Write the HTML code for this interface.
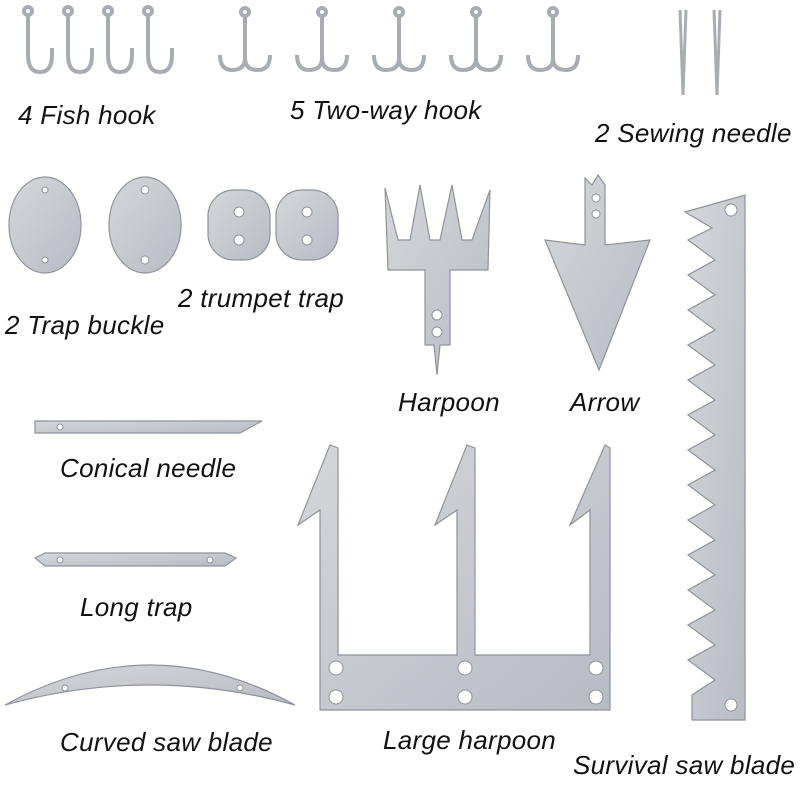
<!DOCTYPE html>
<html><head><style>
html,body{margin:0;padding:0;background:#fff;}
svg{display:block}
text{font-family:"Liberation Sans",sans-serif;font-style:italic;font-size:26px;letter-spacing:0.3px;fill:#111;}
</style></head><body>
<svg width="800" height="800" viewBox="0 0 800 800" xmlns="http://www.w3.org/2000/svg">
<defs>
<linearGradient id="m" x1="0" y1="0" x2="1" y2="1">
<stop offset="0" stop-color="#d4d6da"/><stop offset="1" stop-color="#b8bcc3"/>
</linearGradient>
</defs>
<g fill="url(#m)" stroke="#8e939b" stroke-width="1.2">
<g fill="none" stroke="#a8acb3" stroke-width="4">
<path d="M28 16 V55 Q28 72 40 72 Q52 72 52 55 V48"/>
<path d="M68 16 V55 Q68 72 80 72 Q92 72 92 55 V48"/>
<path d="M108 16 V55 Q108 72 120 72 Q132 72 132 55 V48"/>
<path d="M148 16 V55 Q148 72 160 72 Q172 72 172 55 V48"/>
<circle cx="28" cy="11" r="4"/><circle cx="68" cy="11" r="4"/><circle cx="108" cy="11" r="4"/><circle cx="148" cy="11" r="4"/>
<g id="tw"><circle cx="245" cy="12" r="4"/><path d="M245 16 V58 Q245 70 232 70 Q220 70 220 55 M245 58 Q245 70 258 70 Q270 70 270 55"/></g>
<use href="#tw" x="77"/><use href="#tw" x="154"/><use href="#tw" x="231"/><use href="#tw" x="308"/>
<path d="M680 10 L683 95 L686 10" stroke-width="3"/>
<path d="M720 10 L717 95 L714 10" stroke-width="3"/>
</g>
<ellipse cx="45" cy="225" rx="36" ry="48"/><ellipse cx="145" cy="225" rx="36" ry="48"/>
<rect x="208" y="190" width="62" height="70" rx="26"/><rect x="276" y="190" width="62" height="70" rx="26"/>
<path d="M385 188 L398 240 L410 240 L420 185 L430 240 L440 240 L452 185 L462 240 L472 240 L490 190 L488 270 L450 270 L450 345 L440 345 L437 375 L434 345 L425 345 L425 270 L388 270 Z"/>
<path d="M585 178 L592 185 L598 175 L605 185 L605 245 L650 240 L599 370 L545 240 L585 245 Z"/>
<path d="M685 212 L745 195 L745 720 L692 720 L692 695 L715 680 L688 660 L715 645 L688 625 L715 610 L688 590 L715 575 L688 555 L715 540 L688 520 L715 505 L688 485 L715 470 L688 450 L715 435 L688 415 L715 400 L688 380 L715 365 L688 345 L715 330 L688 310 L715 295 L688 275 L715 260 L688 240 L712 228 Z"/>
<path d="M35 421 L262 421 L240 433 L35 433 Z"/>
<path d="M35 558 L45 553 L225 553 L236 558 L225 566 L45 566 Z"/>
<path d="M5 705 Q150 625 295 705 Q150 665 5 705 Z"/>
<path d="M320 655 L320 510 L298 525 L330 445 L338 448 L338 655 L457 655 L457 510 L435 525 L467 445 L475 448 L475 655 L590 655 L590 510 L570 525 L605 445 L610 448 L610 710 L320 710 Z"/>
</g>
<g fill="#fff" stroke="#8e939b">
<circle cx="45" cy="190" r="3"/><circle cx="45" cy="260" r="3"/><circle cx="145" cy="190" r="4"/><circle cx="145" cy="260" r="4"/>
<circle cx="239" cy="212" r="5"/><circle cx="239" cy="240" r="5"/><circle cx="307" cy="212" r="5"/><circle cx="307" cy="240" r="5"/>
<circle cx="437" cy="315" r="5"/><circle cx="437" cy="332" r="5"/><circle cx="596" cy="198" r="4"/><circle cx="596" cy="214" r="4"/>
<circle cx="731" cy="210" r="6"/><circle cx="731" cy="705" r="6"/>
<circle cx="336" cy="668" r="7"/><circle cx="336" cy="697" r="7"/><circle cx="465" cy="668" r="7"/><circle cx="465" cy="697" r="7"/><circle cx="596" cy="668" r="7"/><circle cx="596" cy="697" r="7"/>
<circle cx="60" cy="427" r="3"/><circle cx="60" cy="560" r="3"/><circle cx="210" cy="560" r="3"/>
<circle cx="65" cy="688" r="3"/><circle cx="240" cy="688" r="3"/>
</g>
<text x="18" y="124">4 Fish hook</text>
<text x="290" y="119">5 Two-way hook</text>
<text x="595" y="142">2 Sewing needle</text>
<text x="5" y="334">2 Trap buckle</text>
<text x="178" y="307">2 trumpet trap</text>
<text x="398" y="411">Harpoon</text>
<text x="570" y="411">Arrow</text>
<text x="60" y="477">Conical needle</text>
<text x="80" y="616">Long trap</text>
<text x="60" y="751">Curved saw blade</text>
<text x="383" y="749">Large harpoon</text>
<text x="573" y="774">Survival saw blade</text>
</svg>
</body></html>
